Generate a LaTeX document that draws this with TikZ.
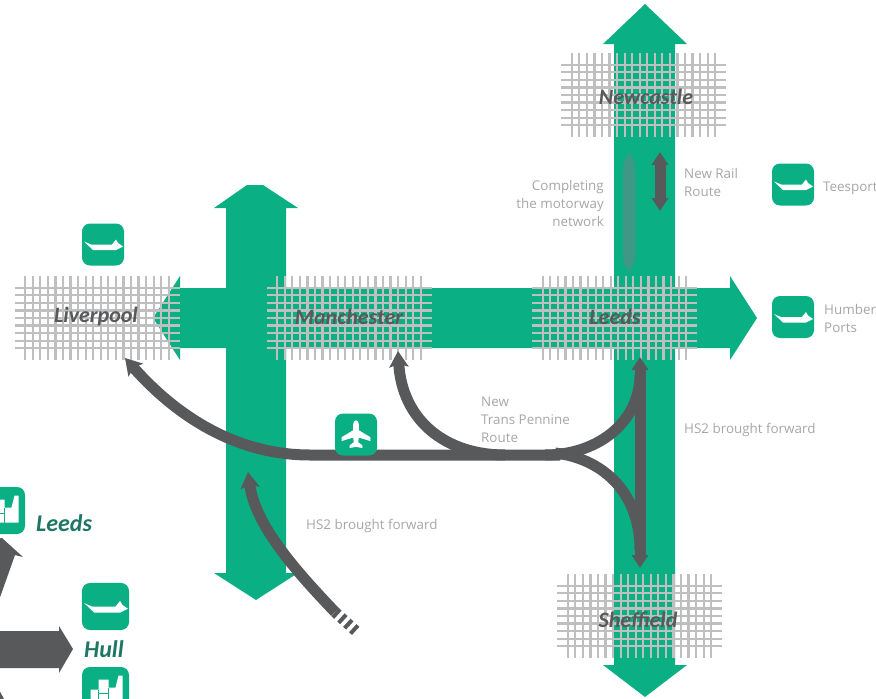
\documentclass[tikz,border=0pt]{standalone}
\usepackage{fontspec}
\setmainfont{Open Sans}
\newfontfamily\cityfont{Carlito}
\usetikzlibrary{arrows.meta,calc}
\definecolor{corridor}{HTML}{0BAF84}
\definecolor{rail}{HTML}{58595B}
\definecolor{gridline}{HTML}{BFBFBF}
\definecolor{motorway}{HTML}{3F9787}
\definecolor{caption}{HTML}{A6A6A6}
\definecolor{port}{HTML}{1F7566}
\tikzset{
  railline/.style={draw=rail,line width=11pt},
  railhead/.style={-{Stealth[length=16pt,width=19pt,inset=3pt]}},
  bothheads/.style={{Stealth[length=13pt,width=16pt,inset=0pt]}-{Stealth[length=13pt,width=16pt,inset=0pt]}},
  cityname/.style={font=\cityfont\fontsize{22}{24}\selectfont\bfseries\itshape,text=rail},
  portname/.style={font=\cityfont\fontsize{24}{26}\selectfont\bfseries\itshape,text=port,inner sep=0pt},
  note/.style={font=\fontsize{13.4}{18}\selectfont,text=caption,align=left,inner sep=0pt},
  iconbox/.style={fill=corridor,rounded corners=8pt},
  shipicon/.pic={
    \fill[iconbox] (-21,-21) rectangle (21,21);
    \fill[white] (-19,-3) -- (-12,0) -- (9,0) -- (13,-5) -- (15,-1.5) -- (20,2) -- (13,5.5) -- (-10,5.5) -- cycle;
  },
  planeicon/.pic={
    \fill[iconbox] (-21,-21) rectangle (21,21);
    \filldraw[white,line width=0.8pt,line join=round] (-2.4,-10) .. controls (-2.4,-15) and (2.4,-15) .. (2.4,-10) -- (2.4,-4) -- (14,3) -- (14,6) -- (2.4,2.5) -- (1.8,8)
      -- (6,11) -- (6,13) -- (0,12) -- (-6,13) -- (-6,11) -- (-1.8,8) -- (-2.4,2.5) -- (-14,6) -- (-14,3) -- (-2.4,-4) -- cycle;
  },
  factoryicon/.pic={
    \fill[iconbox] (-23.5,-23.5) rectangle (23.5,23.5);
    \fill[white] (-15,12) -- (-15,-1) -- (-7,-1) -- (-7,-11) -- (3,-11) -- (3,-3) -- (10,-3) -- (13,-15) -- (17,-15) -- (17,12) -- cycle;
    \draw[corridor,line width=1pt] (-7,-1) -- (-7,12) (-7,3) -- (3,3) (3,-3) -- (3,12);
  },
}
% one crossing grid, centred on a city
\newcommand{\citygrid}[2]{
  \foreach \row in {-4,...,4}
    \draw[gridline,line width=2.2pt] (#1-82.5,#2+\row*7.55) -- (#1+82.5,#2+\row*7.55);
  \foreach \col in {-9.5,-8.5,...,9.5}
    \draw[gridline,line width=2.2pt] (#1+\col*7.55,#2-42) -- (#1+\col*7.55,#2+42);
}
\begin{document}
\begin{tikzpicture}[x=1pt,y=-1pt]
  \useasboundingbox (0,0) rectangle (876,699);
  \clip (0,0) rectangle (876,699);

  % Corridors
  \fill[corridor] (645,4) -- (687,44) -- (675,44) -- (675,665) -- (687,665) -- (645,697) -- (603,665) -- (614,665) -- (614,44) -- (603,44) -- cycle;
  \fill[corridor] (247,185) -- (263,185) -- (298,208) -- (286,208) -- (286,573) -- (298,573) -- (256,600) -- (214,573) -- (226,573) -- (226,208) -- (214,208) -- cycle;
  \fill[corridor] (153,318) -- (180,276) -- (180,288) -- (730,288) -- (730,276) -- (757,318) -- (730,360) -- (730,348) -- (180,348) -- (180,360) -- cycle;

  % Cities
  \citygrid{97}{318}
  \citygrid{349}{318}
  \citygrid{614.5}{318}
  \citygrid{643.5}{95}
  \citygrid{639.5}{616}
  \node[cityname] (liverpool) at (96,317) {Liverpool};
  \node[cityname] (manchester) at (349,317) {Manchester};
  \node[cityname] (leeds) at (615,317) {Leeds};
  \node[cityname] (newcastle) at (646,97) {Newcastle};
  \node[cityname] (sheffield) at (638,620) {Sheffield};

  % Motorway and new rail link
  \fill[motorway] (629,153) .. controls (634,158) and (635,165) .. (635,172) -- (635,254) .. controls (635,262) and (633,267) .. (629,271)
    .. controls (625,267) and (623,262) .. (623,254) -- (623,172) .. controls (623,165) and (625,158) .. (629,153) -- cycle;
  \coordinate (railN) at (660,152);
  \coordinate (railS) at (660,211);
  \draw[railline,bothheads] (railN) -- (railS);

  % Trans Pennine and HS2 lines
  \coordinate (liverpoolend) at (125,358);
  \coordinate (manchesterend) at (398,351);
  \coordinate (hs2top) at (640,357);
  \coordinate (hs2foot) at (640,568);
  \coordinate (lowerend) at (248,472);
  \coordinate (lowerstub) at (335,612);
  \coordinate (lowerfree) at (357,632);
  \draw[railline,railhead] (560,455) -- (310,455) .. controls (240,455) and (180,420) .. (liverpoolend);
  \draw[railline,railhead] (505,455) .. controls (445,455) and (402,420) .. (manchesterend);
  \draw[railline] (545,455) .. controls (600,455) and (640,420) .. (640,375);
  \draw[railline] (555,453) .. controls (600,458) and (640,490) .. (640,550);
  \draw[railline,bothheads] (hs2top) -- (hs2foot);
  \draw[railline,railhead] (lowerstub) .. controls (295,570) and (255,525) .. (lowerend);
  \draw[draw=rail,line width=11pt,dash pattern=on 4pt off 4pt] (lowerstub) -- (lowerfree);

  % Ports and airport
  \pic (liverpoolport) at (103,244.5) {shipicon};
  \pic (teesport) at (793,184.5) {shipicon};
  \pic (humber) at (793,317) {shipicon};
  \pic[scale=1.12] (hullport) at (105.5,606.5) {shipicon};
  \pic (airport) at (356,434.5) {planeicon};
  \pic (leedsworks) at (1.5,510.5) {factoryicon};
  \pic (hullworks) at (105.5,690.5) {factoryicon};
  \node[note,anchor=west] (teesportname) at (823,188) {Teesport};
  \node[note,anchor=west] (humbername) at (824,318) {Humber\\Ports};
  \node[note,anchor=west] (railnote) at (684,182) {New Rail\\Route};
  \node[note,anchor=east,align=right] (motorwaynote) at (604,203) {Completing\\the motorway\\network};
  \node[note,anchor=west] (pennine) at (481,420) {New\\Trans Pennine\\Route};
  \node[note,anchor=west] (hs2east) at (684,430) {HS2 brought forward};
  \node[note,anchor=west] (hs2west) at (306,526) {HS2 brought forward};
  \node[portname,anchor=west] (leedsname) at (36,523) {Leeds};
  \node[portname,anchor=west] (hullname) at (84,649) {Hull};

  % Freight arrows off the left edge
  \fill[rail] (-5,631) -- (59,631) -- (59,626) -- (73,649) -- (59,673) -- (59,668) -- (-5,668) -- cycle;
  \fill[rail] (2,538) -- (23,557) -- (15,555) -- (-2,603) -- (-10,603) -- (-10,540) -- cycle;
  \fill[rail] (-3,686) -- (4,699) -- (-3,699) -- cycle;
\end{tikzpicture}
\end{document}
